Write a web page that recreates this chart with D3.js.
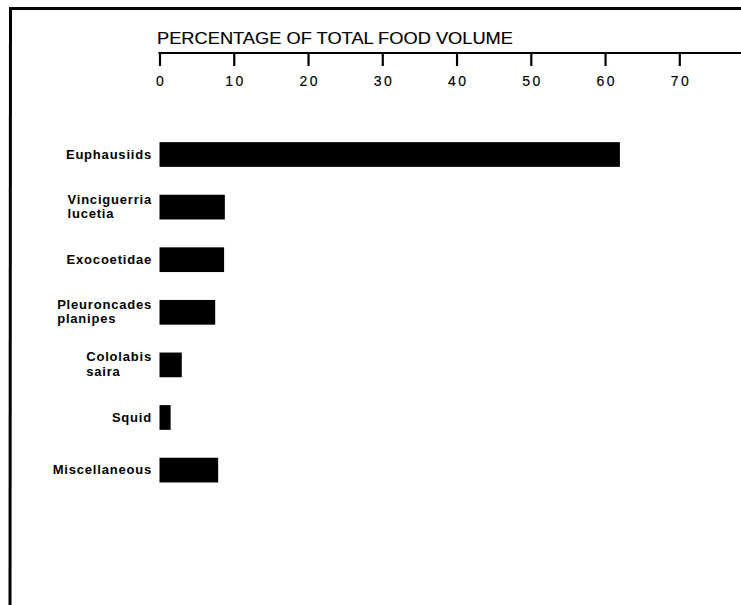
<!DOCTYPE html>
<html>
<head>
<meta charset="utf-8">
<script src="https://cdn.jsdelivr.net/npm/d3@7"></script>
<style>
  html, body { margin: 0; padding: 0; background: #fff; }
  svg { display: block; }
</style>
</head>
<body>
<script>
// ---- data ----
const categories = ["Euphausiids", "Vinciguerria lucetia", "Exocoetidae", "Pleuroncades planipes", "Cololabis saira", "Squid", "Miscellaneous"];
const values = [62, 8.8, 8.7, 7.5, 3.0, 1.5, 7.9];
const tickValues = [0, 10, 20, 30, 40, 50, 60, 70];
const axisTitle = "PERCENTAGE OF TOTAL FOOD VOLUME";

// ---- layout ----
const W = 741, H = 605;
const svg = d3.select("body").append("svg").attr("width", W).attr("height", H);

svg.append("rect").attr("width", W).attr("height", H).attr("fill", "#fff");

// frame (top and left border)
svg.append("line").attr("x1", 9).attr("x2", W).attr("y1", 8.5).attr("y2", 8.5)
  .attr("stroke", "#000").attr("stroke-width", 3);
svg.append("line").attr("x1", 10.5).attr("x2", 10).attr("y1", 7).attr("y2", H)
  .attr("stroke", "#000").attr("stroke-width", 3);

const x = d3.scaleLinear().domain([0, 70]).range([159.5, 679.3]);
const y = d3.scaleBand().domain(categories).range([128.2, 496.4])
  .paddingInner(0.53).paddingOuter(0.265);

// axis title
svg.append("text")
  .attr("x", 157).attr("y", 43.5)
  .attr("font-family", "Liberation Sans Narrow, Liberation Sans, Arial, sans-serif")
  .attr("font-size", 16)
  .attr("textLength", 356).attr("lengthAdjust", "spacingAndGlyphs")
  .attr("fill", "#000")
  .attr("stroke", "#000").attr("stroke-width", 0.15)
  .text(axisTitle);

// axis
const axisY = 53;
const axisG = svg.append("g").attr("transform", `translate(0,${axisY})`)
  .call(d3.axisBottom(x).tickValues(tickValues).tickFormat(d3.format("d"))
    .tickSizeInner(13).tickSizeOuter(0).tickPadding(10.5));
axisG.select(".domain").remove();
axisG.selectAll(".tick line").attr("stroke", "#000").attr("stroke-width", 2.2);
axisG.selectAll(".tick text")
  .attr("font-family", "Liberation Sans, Arial, sans-serif")
  .attr("font-size", 14)
  .attr("letter-spacing", "2.5px")
  .attr("dx", 1.2)
  .attr("fill", "#000")
  .attr("stroke", "#000").attr("stroke-width", 0.15);
axisG.append("line")
  .attr("x1", x(0) - 1).attr("x2", W)
  .attr("y1", 0).attr("y2", 0)
  .attr("stroke", "#000").attr("stroke-width", 2.2);

// bars
svg.append("g").selectAll("rect")
  .data(categories)
  .join("rect")
  .attr("x", x(0))
  .attr("y", d => y(d))
  .attr("width", (d, i) => x(values[i]) - x(0))
  .attr("height", y.bandwidth())
  .attr("fill", "#000");

// category labels
const labelRight = 152;
const labG = svg.append("g");
categories.forEach(c => {
  const words = c.split(" ");
  const cy = y(c) + y.bandwidth() / 2;
  const t = labG.append("text")
    .attr("font-family", "Liberation Sans, Arial, sans-serif")
    .attr("font-weight", "bold")
    .attr("font-size", 13)
    .attr("letter-spacing", "0.8px")
    .attr("fill", "#000");
  if (words.length === 1) {
    t.append("tspan").attr("y", cy + 4).text(words[0]);
  } else {
    t.append("tspan").attr("y", cy - 3.5).text(words[0]);
    t.append("tspan").attr("y", cy + 11).text(words[1]);
  }
  let maxW = 0;
  t.selectAll("tspan").each(function () {
    maxW = Math.max(maxW, this.getComputedTextLength());
  });
  t.selectAll("tspan").attr("x", labelRight - maxW);
});
</script>
</body>
</html>
